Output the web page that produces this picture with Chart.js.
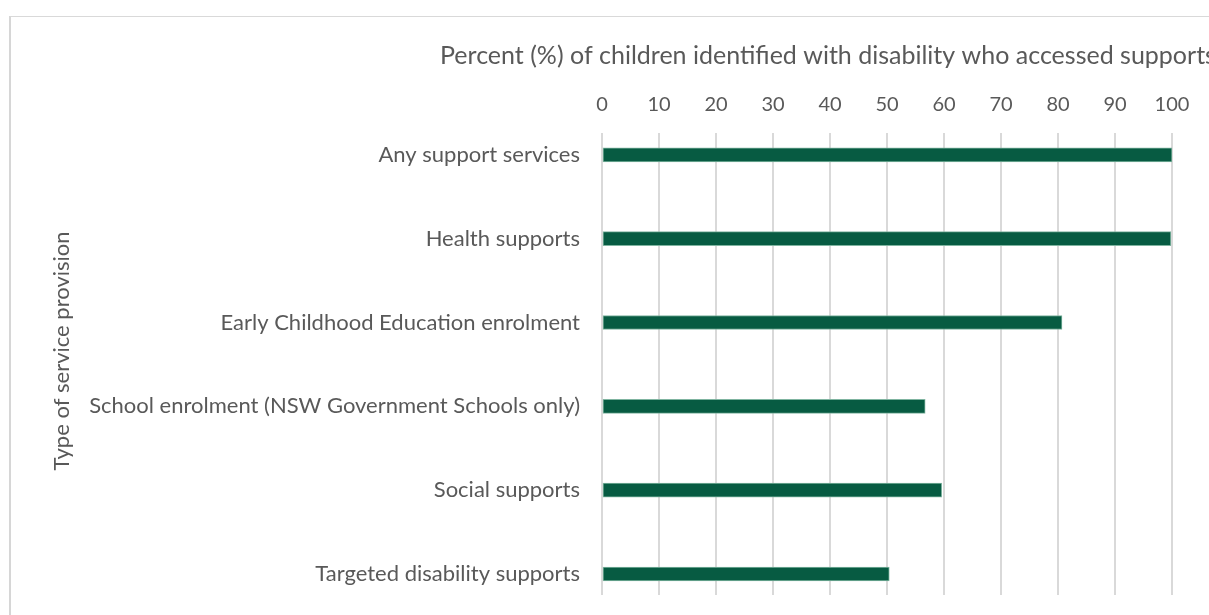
<!DOCTYPE html>
<html>
<head>
<meta charset="utf-8">
<script src="https://cdn.jsdelivr.net/npm/chart.js@4/dist/chart.umd.min.js"></script>
<style>
  html, body { margin: 0; padding: 0; background: #ffffff; overflow: hidden; }
  #wrap { position: relative; width: 1209px; height: 615px; }
  #frame {
    position: absolute; left: 9px; top: 16px; width: 1400px; height: 800px;
    border-left: 2px solid #d6d6d6; border-top: 1px solid #d9d9d9;
  }
  #chart { position: absolute; left: 0; top: 0; }
</style>
</head>
<body>
<div id="wrap">
  <div id="frame"></div>
  <canvas id="chart" width="1209" height="615"></canvas>
</div>
<script>
// Service types, listed top to bottom
const categories = [
  'Any support services',
  'Health supports',
  'Early Childhood Education enrolment',
  'School enrolment (NSW Government Schools only)',
  'Social supports',
  'Targeted disability supports'
];

// Percent of children identified with disability who accessed each support
const percentAccessed = [100, 99.8, 80.7, 56.7, 59.6, 50.4];

// Percent axis ticks
const percentTicks = [0, 10, 20, 30, 40, 50, 60, 70, 80, 90, 100];

const xCaption = 'Percent (%) of children identified with disability who accessed supports';
const yCaption = 'Type of service provision';

const FONT = 'Lato, "Open Sans", sans-serif';
const TEXT = '#595959';

// Axis captions placed like a spreadsheet chart (the x caption runs past the right edge)
const captionPlugin = {
  id: 'axisCaptions',
  afterDraw(chart) {
    const { ctx, chartArea } = chart;
    ctx.save();
    ctx.fillStyle = TEXT;
    ctx.textBaseline = 'middle';
    ctx.textAlign = 'left';
    ctx.font = '25px ' + FONT;
    ctx.fillText(xCaption, chartArea.left - 162, 56);
    ctx.font = '22px ' + FONT;
    ctx.translate(62, (chartArea.top + chartArea.bottom) / 2 - 13);
    ctx.rotate(-Math.PI / 2);
    ctx.textAlign = 'center';
    ctx.fillText(yCaption, 0, 0);
    ctx.restore();
  }
};

new Chart(document.getElementById('chart'), {
  type: 'bar',
  data: {
    datasets: [{
      data: categories.map((c, i) => ({ x: percentAccessed[i], y: i })),
      backgroundColor: '#075b42',
      borderColor: '#7fb4a0',
      borderWidth: 1,
      borderSkipped: false,
      barThickness: 14
    }]
  },
  options: {
    indexAxis: 'y',
    responsive: false,
    animation: false,
    layout: { padding: { top: 0, right: 37, bottom: 20, left: 0 } },
    plugins: {
      legend: { display: false },
      tooltip: { enabled: false },
      title: { display: false }
    },
    scales: {
      x: {
        type: 'linear',
        position: 'top',
        min: percentTicks[0],
        max: percentTicks[percentTicks.length - 1],
        afterBuildTicks: s => { s.ticks = percentTicks.map(v => ({ value: v })); },
        afterFit: s => { s.height = 133; s.paddingLeft = 0; s.paddingRight = 0; },
        grid: { color: '#d9d9d9', lineWidth: 2, drawTicks: false },
        border: { display: false },
        ticks: { color: TEXT, font: { family: FONT, size: 20 }, padding: 16 }
      },
      y: {
        type: 'linear',
        reverse: true,
        offset: false,
        bounds: 'data',
        min: -0.26,
        max: 5.25,
        afterDataLimits: s => { s.min = -0.26; s.max = 5.25; },
        afterBuildTicks: s => { s.ticks = categories.map((c, i) => ({ value: i })); },
        afterFit: s => { s.width = 602; s.paddingTop = 0; s.paddingBottom = 0; },
        grid: { display: false, drawTicks: false, offset: false },
        border: { display: false },
        ticks: {
          color: TEXT,
          font: { family: FONT, size: 22 },
          padding: 22,
          autoSkip: false,
          callback: v => categories[v]
        }
      }
    }
  },
  plugins: [captionPlugin]
});
</script>
</body>
</html>
